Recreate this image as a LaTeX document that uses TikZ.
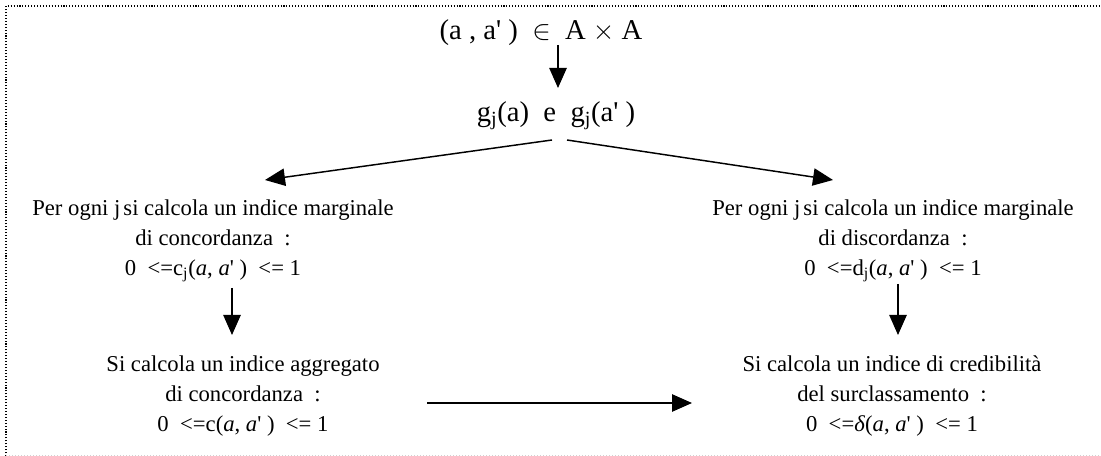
\documentclass[tikz,border=0pt]{standalone}
\usepackage{fontspec}
\setmainfont{Liberation Serif}
\usetikzlibrary{arrows.meta, calc}

\newcommand{\apr}{\textquotesingle}
\newcommand{\idx}[1]{\textsubscript{#1}}

\begin{document}
\begin{tikzpicture}[
    x=0.75pt, y=-0.75pt,
    every node/.style={font=\fontsize{17}{22.5}\selectfont, align=center, inner sep=1pt},
    big/.style={font=\fontsize{21.5}{26}\selectfont},
    >={Triangle[length=15pt, width=13pt]},
    flow/.style={->, line width=1.1pt}
]

% --- Page and dotted frame ---
\useasboundingbox (0,0) rectangle (1101,456);
\draw[line width=0.8pt, dash pattern=on 0.8pt off 1.4pt] (6,456) -- (6,6) -- (1101,6);
\draw[gray!35, line width=0.75pt, dash pattern=on 0.75pt off 1.5pt] (6,455) -- (1101,455);

% --- Pair of alternatives ---
\node[big] (pair) at (541,33) {(a , a\apr~)~ $\in$~ A $\times$ A};
\node[big] (gj) at (556,116) {g\idx{j}(a)~ e~ g\idx{j}(a\apr~)};

% --- Marginal indices ---
\node (lmarg) at (213,241) {Per ogni j\hspace{-2pt} si calcola un indice marginale\\
    di concordanza~~:\\
    0~~<=c\idx{j}(\textit{a}, \textit{a}\apr~)~~<=~1};
\node (rmarg) at (893,241) {Per ogni j\hspace{-2pt} si calcola un indice marginale\\
    di discordanza~~:\\
    0~~<=d\idx{j}(\textit{a}, \textit{a}\apr~)~~<=~1};

% --- Aggregated indices ---
\node (lagg) at (243,396) {Si calcola un indice aggregato\\
    di concordanza~~:\\
    0~~<=c(\textit{a}, \textit{a}\apr~)~~<=~1};
\node (rcred) at (892,396) {Si calcola un indice di credibilità\\
    del surclassamento~~:\\
    0~~<=\textit{δ}(\textit{a}, \textit{a}\apr~)~~<=~1};

% --- Connectors ---
\draw[flow] ($(pair)+(17,12)$) -- ($(gj)+(2,-28)$);
\draw[flow] ($(gj)+(-4,24)$) -- ($(lmarg)+(52,-61)$);
\draw[flow] ($(gj)+(11,24)$) -- ($(rmarg)+(-60,-61)$);
\draw[flow] ($(lmarg)+(19,47)$) -- ($(lagg)+(-11,-61)$);
\draw[flow] ($(rmarg)+(5,43)$) -- ($(rcred)+(6,-61)$);
\draw[flow] ($(lagg)+(184,7)$) -- ($(rcred)+(-200,7)$);

\end{tikzpicture}
\end{document}
